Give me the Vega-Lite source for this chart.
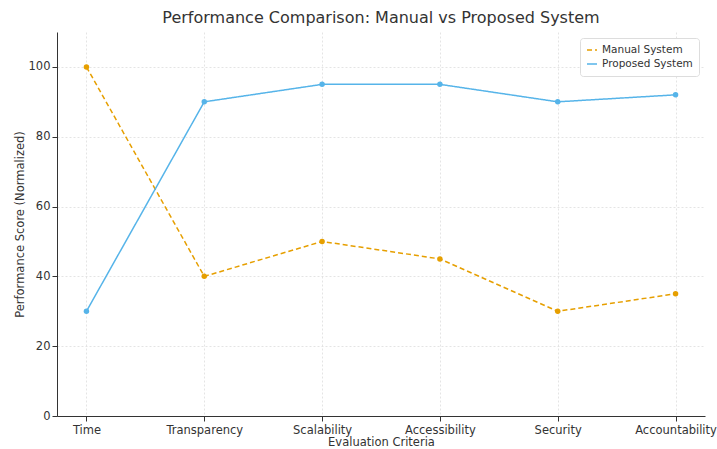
{
  "$schema": "https://vega.github.io/schema/vega-lite/v6.json",
  "width": 648,
  "height": 384,
  "autosize": {"type": "none"},
  "padding": {"left": 57, "top": 32, "right": 12, "bottom": 33},
  "background": "white",
  "config": {
    "font": "DejaVu Sans",
    "view": {"stroke": null},
    "axis": {"labelFont": "DejaVu Sans", "titleFont": "DejaVu Sans", "labelColor": "#333333", "titleColor": "#333333", "titleFontWeight": "normal", "domainColor": "#333333", "tickColor": "#333333", "gridColor": "#dddddd", "gridDash": [2, 2], "gridWidth": 0.8, "labelFontSize": 11.5, "titleFontSize": 11.5}
  },
  "title": {"text": "Performance Comparison: Manual vs Proposed System", "font": "DejaVu Sans", "fontSize": 16, "fontWeight": "normal", "color": "#333333", "offset": 6},
  "data": {
    "values": [
      {"criteria": "Time", "system": "Manual System", "score": 100},
      {"criteria": "Transparency", "system": "Manual System", "score": 40},
      {"criteria": "Scalability", "system": "Manual System", "score": 50},
      {"criteria": "Accessibility", "system": "Manual System", "score": 45},
      {"criteria": "Security", "system": "Manual System", "score": 30},
      {"criteria": "Accountability", "system": "Manual System", "score": 35},
      {"criteria": "Time", "system": "Proposed System", "score": 30},
      {"criteria": "Transparency", "system": "Proposed System", "score": 90},
      {"criteria": "Scalability", "system": "Proposed System", "score": 95},
      {"criteria": "Accessibility", "system": "Proposed System", "score": 95},
      {"criteria": "Security", "system": "Proposed System", "score": 90},
      {"criteria": "Accountability", "system": "Proposed System", "score": 92}
    ]
  },
  "mark": {"type": "line", "point": {"size": 30, "filled": true}, "strokeWidth": 1.5},
  "encoding": {
    "x": {"field": "criteria", "type": "ordinal", "sort": ["Time", "Transparency", "Scalability", "Accessibility", "Security", "Accountability"], "scale": {"type": "point", "padding": 0.25}, "title": "Evaluation Criteria", "axis": {"labelAngle": 0, "grid": true, "titlePadding": 1, "labelPadding": 3}},
    "y": {"field": "score", "type": "quantitative", "scale": {"domain": [0, 110], "nice": false}, "title": "Performance Score (Normalized)", "axis": {"values": [0, 20, 40, 60, 80, 100], "grid": true, "titlePadding": 3}},
    "color": {"field": "system", "type": "nominal", "scale": {"domain": ["Manual System", "Proposed System"], "range": ["#E69F00", "#56B4E9"]}, "legend": {"title": null, "orient": "top-right", "offset": 6, "fillColor": "white", "strokeColor": "#dddddd", "padding": 6, "cornerRadius": 3, "labelFontSize": 10.5, "symbolType": "stroke", "symbolStrokeWidth": 1.5, "labelColor": "#333333"}},
    "strokeDash": {"field": "system", "type": "nominal", "scale": {"domain": ["Manual System", "Proposed System"], "range": [[5, 3], [1, 0]]}, "legend": {"title": null}}
  }
}
